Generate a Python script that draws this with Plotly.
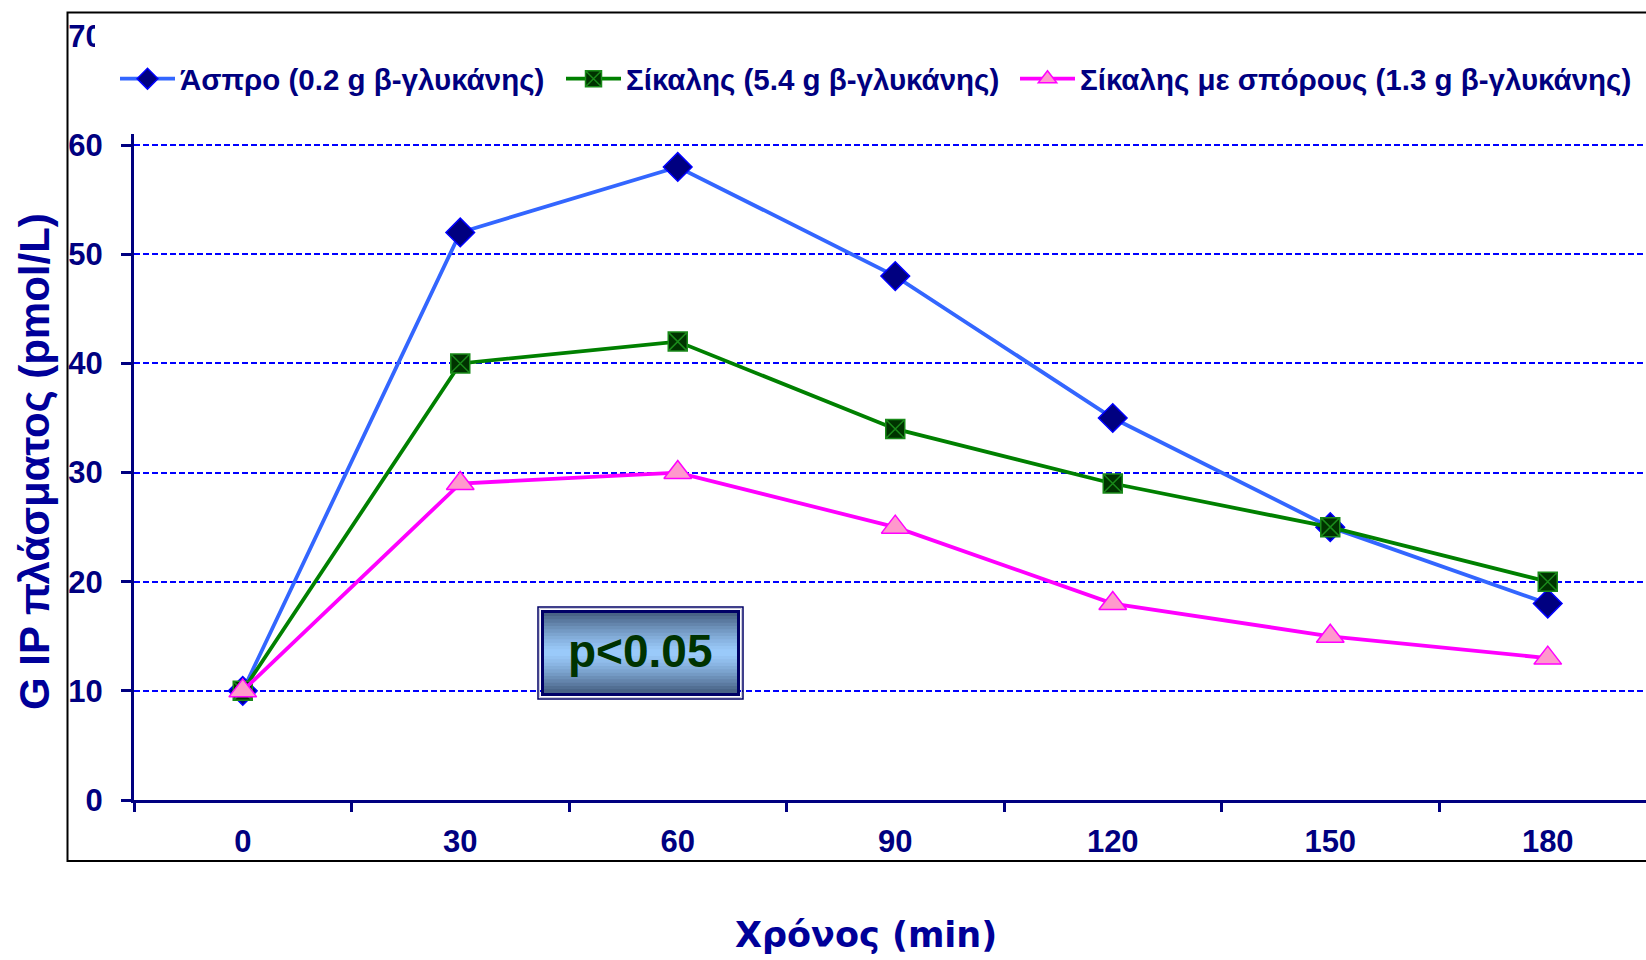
import plotly.graph_objects as go

# ---------------- data ----------------
time_min = [0, 30, 60, 90, 120, 150, 180]
aspro = [10, 52, 58, 48, 35, 25, 18]
sikalis = [10, 40, 42, 34, 29, 25, 20]
sikalis_sporoi = [10, 29, 30, 25, 18, 15, 13]
series_names = [
    "Άσπρο (0.2 g β-γλυκάνης)",
    "Σίκαλης (5.4 g β-γλυκάνης)",
    "Σίκαλης με σπόρους (1.3 g β-γλυκάνης)",
]
y_ticks = [0, 10, 20, 30, 40, 50, 60, 70]
x_title = "Χρόνος (min)"
y_title = "G IP πλάσματος (pmol/L)"
p_text = "p<0.05"

# ---------------- layout geometry ----------------
W, H = 1646, 960
ML, MR, MT, MB = 134, 0, 36, 160
PW, PH = W - ML - MR, H - MT - MB
PX_PER_MIN = 7.25


def px(x):
    return (x - ML) / PW


def py(y):
    return (H - MB - y) / PH


step = time_min[1] - time_min[0]
x_start = time_min[0] - step / 2
x_end = x_start + PW / PX_PER_MIN
mids = [t - step / 2 for t in time_min]

NAVY = "#000080"
FONT = "Liberation Sans"
ITEMW = 55
legend_text_starts = [181, 627, 1081]   # pixel positions of legend texts

fig = go.Figure()
styles = [
    dict(line="#3366FF", sym="diamond", size=22, fill="#000080", edge="#0000FF"),
    dict(line="#008000", sym="square-x", size=19, fill="#003300", edge="#1a8a1a"),
    dict(line="#FF00FF", sym="triangle-up", size=24, fill="#FF99CC", edge="#FF00FF"),
]
legend_ids = ["legend", "legend2", "legend3"]
for name, vals, st, lg in zip(series_names, [aspro, sikalis, sikalis_sporoi], styles, legend_ids):
    fig.add_trace(go.Scatter(
        x=time_min, y=vals, name=name, mode="lines+markers", legend=lg,
        line=dict(color=st["line"], width=3.8),
        marker=dict(symbol=st["sym"], size=st["size"], color=st["fill"],
                    line=dict(color=st["edge"], width=1.5)),
    ))

shapes = []
# white block behind legend (hides the top tick label area like the original)
shapes.append(dict(type="rect", xref="paper", yref="paper", layer="above",
                   x0=px(95), x1=1.02, y0=py(134), y1=py(15),
                   fillcolor="white", line=dict(width=0)))
# outer chart border
shapes.append(dict(type="rect", xref="paper", yref="paper", layer="above",
                   x0=px(67.5), x1=1.02, y0=py(861), y1=py(12.5),
                   fillcolor="rgba(0,0,0,0)", line=dict(color="#000000", width=2)))

# p-value box with vertical gradient
bx0, bx1, by0, by1 = 544, 737, 613, 693
nb = 24
dark = (0x45, 0x5e, 0x80)
light = (0x9c, 0xcc, 0xfc)
for i in range(nb):
    t = (i + 0.5) / nb
    d = abs(2 * t - 1) ** 1.3
    c = tuple(int(light[k] + (dark[k] - light[k]) * d) for k in range(3))
    ya = by0 + (by1 - by0) * i / nb
    yb = by0 + (by1 - by0) * (i + 1) / nb
    shapes.append(dict(type="rect", xref="paper", yref="paper", layer="above",
                       x0=px(bx0), x1=px(bx1), y0=py(yb + 0.3), y1=py(ya - 0.3),
                       fillcolor="rgb(%d,%d,%d)" % c, line=dict(width=0)))
shapes.append(dict(type="rect", xref="paper", yref="paper", layer="above",
                   x0=px(542.5), x1=px(738.5), y0=py(694.5), y1=py(611.5),
                   fillcolor="rgba(0,0,0,0)", line=dict(color="#000066", width=3)))
shapes.append(dict(type="rect", xref="paper", yref="paper", layer="above",
                   x0=px(539.5), x1=px(741.5), y0=py(697.5), y1=py(608.5),
                   fillcolor="rgba(0,0,0,0)", line=dict(color="#c8c8d8", width=1)))
shapes.append(dict(type="rect", xref="paper", yref="paper", layer="above",
                   x0=px(538), x1=px(743), y0=py(699), y1=py(607),
                   fillcolor="rgba(0,0,0,0)", line=dict(color="#000066", width=1.5)))

annotations = [
    dict(text=p_text, xref="paper", yref="paper", x=px(640), y=py(651),
         showarrow=False, xanchor="center", yanchor="middle",
         font=dict(family=FONT, size=46, color="#003300", weight="bold")),
    dict(text=y_title, xref="paper", yref="paper", x=px(34), y=py(462),
         showarrow=False, xanchor="center", yanchor="middle", textangle=-90,
         font=dict(family=FONT, size=42, color="#000099", weight="bold")),
    dict(text=x_title, xref="paper", yref="paper", x=px(866), y=py(935),
         showarrow=False, xanchor="center", yanchor="middle",
         font=dict(family="DejaVu Sans", size=35, color="#000099", weight="bold")),
]

legend_font = dict(family=FONT, size=29.5, color=NAVY, weight="bold")
legends = {}
for lg, ts in zip(legend_ids, legend_text_starts):
    legends[lg] = dict(orientation="h", x=px(ts - ITEMW - 11), xanchor="left",
                       y=py(79), yanchor="middle", bgcolor="rgba(0,0,0,0)",
                       itemwidth=ITEMW, font=legend_font)

fig.update_layout(
    width=W, height=H,
    margin=dict(l=ML, r=MR, t=MT, b=MB),
    paper_bgcolor="white", plot_bgcolor="white",
    showlegend=True,
    xaxis=dict(range=[x_start, x_end], tickmode="array", tickvals=time_min,
               ticktext=[str(t) for t in time_min], ticks="",
               showline=True, linecolor=NAVY, linewidth=3, showgrid=False, zeroline=False,
               ticklabelstandoff=12,
               tickfont=dict(family=FONT, size=31, color=NAVY, weight="bold"),
               minor=dict(tickmode="array", tickvals=mids, ticks="outside", ticklen=9,
                          tickwidth=3, tickcolor=NAVY, showgrid=False)),
    yaxis=dict(range=[y_ticks[0], y_ticks[-1]], tickmode="array", tickvals=y_ticks,
               ticks="outside", ticklen=10, tickwidth=3, tickcolor=NAVY,
               showline=True, linecolor=NAVY, linewidth=3, zeroline=False,
               showgrid=True, gridcolor="#0000FF", gridwidth=1.5, griddash="6px,3px",
               ticklabelstandoff=12,
               tickfont=dict(family=FONT, size=31, color=NAVY, weight="bold")),
    shapes=shapes,
    annotations=annotations,
    **legends,
)

fig.write_html("out.html")
